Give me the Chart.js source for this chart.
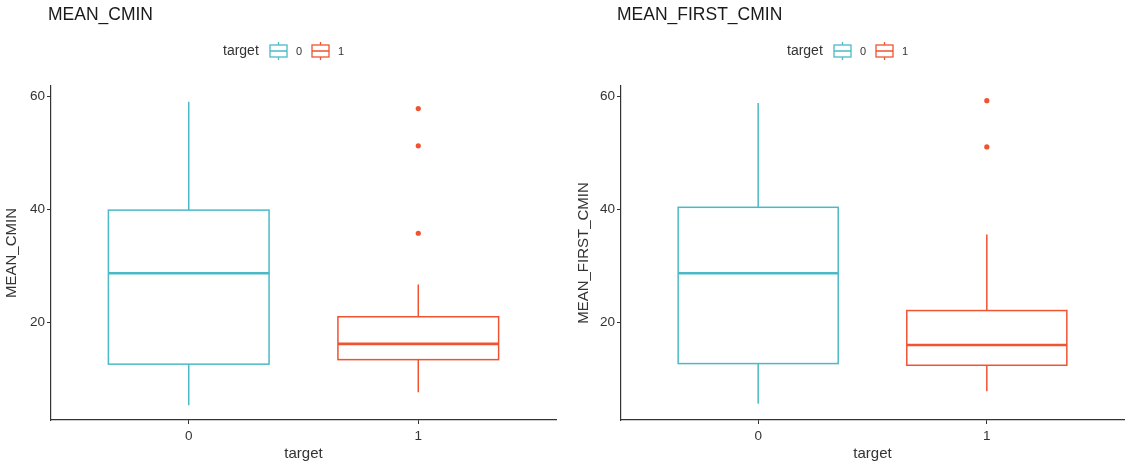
<!DOCTYPE html>
<html lang="en">
<head>
<meta charset="UTF-8">
<title>MEAN_CMIN / MEAN_FIRST_CMIN</title>
<script src="https://cdn.jsdelivr.net/npm/chart.js"></script>
<style>
  body { margin: 0; background: #fff; }
  canvas { position: absolute; top: 0; }
</style>
</head>
<body>
<canvas id="c1" width="560" height="466" style="left:0"></canvas>
<canvas id="c2" width="568" height="466" style="left:560px"></canvas>
<script>
const categories = ['0', '1'];
const yTicks = [20, 40, 60];
const colors = ['#4BBAC6', '#F05330'];

// MEAN_CMIN
const cminLow = [5.3, 7.6];
const cminQ1 = [12.6, 13.4];
const cminMedian = [28.7, 16.2];
const cminQ3 = [39.9, 21.0];
const cminHigh = [59.1, 26.7];
const cminOutliers = [[], [57.9, 51.3, 35.8]];

// MEAN_FIRST_CMIN
const firstLow = [5.6, 7.8];
const firstQ1 = [12.7, 12.4];
const firstMedian = [28.7, 16.0];
const firstQ3 = [40.4, 22.1];
const firstHigh = [58.9, 35.6];
const firstOutliers = [[], [59.3, 51.1]];

const FONT = '"Liberation Sans", Arial, sans-serif';
Chart.defaults.font.family = FONT;
Chart.defaults.color = '#333';

// boxes, whiskers and medians drawn through the chart's scales
const boxPlugin = {
  id: 'boxes',
  beforeDatasetsDraw(chart, args, o) {
    const { ctx, scales: { x, y } } = chart;
    ctx.save();
    categories.forEach((c, i) => {
      const cx = x.getPixelForValue(i);
      const l = x.getPixelForValue(i - 0.35), r = x.getPixelForValue(i + 0.35);
      const q1 = y.getPixelForValue(o.q1[i]), q3 = y.getPixelForValue(o.q3[i]);
      const md = y.getPixelForValue(o.median[i]);
      ctx.strokeStyle = colors[i];
      ctx.lineWidth = 1.5;
      ctx.strokeRect(l, q3, r - l, q1 - q3);
      ctx.beginPath();
      ctx.moveTo(cx, q3); ctx.lineTo(cx, y.getPixelForValue(o.high[i]));
      ctx.moveTo(cx, q1); ctx.lineTo(cx, y.getPixelForValue(o.low[i]));
      ctx.stroke();
      ctx.lineWidth = 2.6;
      ctx.beginPath();
      ctx.moveTo(l, md); ctx.lineTo(r, md);
      ctx.stroke();
    });
    ctx.restore();
  },
  afterDraw(chart, args, o) {
    const ctx = chart.ctx;
    ctx.save();
    // title
    ctx.fillStyle = '#1a1a1a';
    ctx.font = '17.5px ' + FONT;
    ctx.textBaseline = 'middle';
    ctx.textAlign = 'left';
    ctx.fillText(o.title, o.titleX, 15);
    // legend
    const lx = chart.width / 2 - 57;
    const ly = 51.5;
    ctx.fillStyle = '#333';
    ctx.font = '14px ' + FONT;
    ctx.fillText('target', lx, ly);
    categories.forEach((c, i) => {
      const ix = lx + 47 + i * 42;
      ctx.strokeStyle = colors[i];
      ctx.lineWidth = 1.3;
      ctx.strokeRect(ix, 45, 17, 12);
      ctx.beginPath();
      ctx.moveTo(ix, 51); ctx.lineTo(ix + 17, 51);
      ctx.moveTo(ix + 8.5, 42); ctx.lineTo(ix + 8.5, 45);
      ctx.moveTo(ix + 8.5, 57); ctx.lineTo(ix + 8.5, 60);
      ctx.stroke();
      ctx.fillStyle = '#333';
      ctx.font = '11px ' + FONT;
      ctx.fillText(c, ix + 26, ly);
    });
    ctx.restore();
  }
};

function makeChart(id, title, titleX, yLabel, yWidth, yTitlePad, padRight, s) {
  const outlierPts = [];
  s.outliers.forEach((arr, i) => arr.forEach(v => outlierPts.push({ x: i, y: v })));
  return new Chart(document.getElementById(id), {
    type: 'scatter',
    data: {
      datasets: [{
        data: outlierPts,
        pointRadius: 2.6,
        pointBackgroundColor: colors[1],
        pointBorderWidth: 0
      }]
    },
    plugins: [boxPlugin],
    options: {
      responsive: false,
      animation: false,
      layout: { padding: { top: 86, right: padRight, left: 0, bottom: 0 } },
      plugins: {
        legend: { display: false },
        tooltip: { enabled: false },
        boxes: Object.assign({ title: title, titleX: titleX }, s)
      },
      scales: {
        x: {
          type: 'linear',
          min: -0.6,
          max: 1.6,
          afterBuildTicks: a => { a.ticks = categories.map((c, i) => ({ value: i })); },
          afterFit: a => { a.height = 46; },
          ticks: { callback: v => categories[v], font: { size: 13.5 }, color: '#333', padding: 4 },
          grid: { drawOnChartArea: false, tickLength: 4, color: '#333' },
          border: { color: '#333', width: 1.2 },
          title: { display: true, text: 'target', font: { size: 15 }, color: '#333', padding: { top: 0, bottom: 3 } }
        },
        y: {
          min: 2.7,
          max: 61.9,
          afterBuildTicks: a => { a.ticks = yTicks.map(v => ({ value: v })); },
          afterFit: a => { a.width = yWidth; },
          ticks: { font: { size: 13.5 }, color: '#333', padding: 2 },
          grid: { drawOnChartArea: false, tickLength: 4, color: '#333' },
          border: { color: '#333', width: 1.2 },
          title: { display: true, text: yLabel, font: { size: 15 }, color: '#333', padding: { top: yTitlePad, bottom: 0 } }
        }
      }
    }
  });
}

makeChart('c1', 'MEAN_CMIN', 48, 'MEAN_CMIN', 51, 3, 2, {
  low: cminLow, q1: cminQ1, median: cminMedian, q3: cminQ3, high: cminHigh, outliers: cminOutliers
});
makeChart('c2', 'MEAN_FIRST_CMIN', 57, 'MEAN_FIRST_CMIN', 61, 15, 3, {
  low: firstLow, q1: firstQ1, median: firstMedian, q3: firstQ3, high: firstHigh, outliers: firstOutliers
});
</script>
</body>
</html>
